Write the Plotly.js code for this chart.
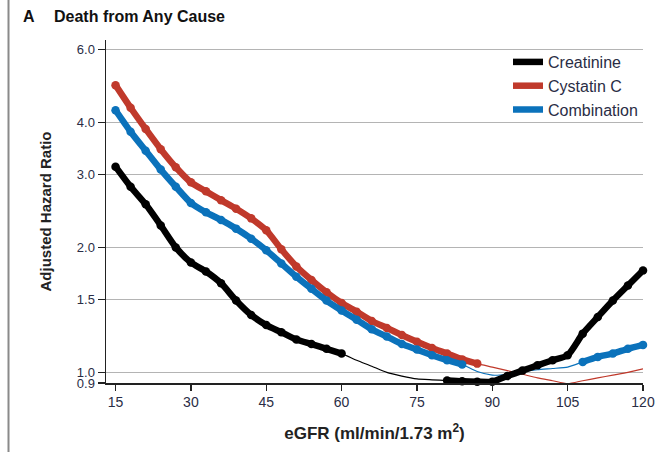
<!DOCTYPE html>
<html>
<head>
<meta charset="utf-8">
<script src="https://cdn.plot.ly/plotly-3.0.1.min.js"></script>
<style>html,body{margin:0;padding:0;background:#fff;}#chart{width:668px;height:452px;}</style>
</head>
<body>
<div id="chart"></div>
<script>
// eGFR grid (ml/min/1.73 m2)
const egfr = [15,18,21,24,27,30,33,36,39,42,45,48,51,54,57,60,63,66,69,72,75,78,81,84,87,90,93,96,99,102,105,108,111,114,117,120];

// Adjusted hazard ratios
const creatinine = [3.13,2.80,2.54,2.26,2.00,1.84,1.75,1.64,1.49,1.375,1.30,1.25,1.20,1.17,1.14,1.11,1.07,1.035,1.00,0.98,0.965,0.96,0.956,0.952,0.95,0.95,0.98,1.01,1.04,1.07,1.10,1.24,1.36,1.49,1.62,1.76];
const cystatinC  = [4.92,4.34,3.86,3.45,3.12,2.87,2.73,2.60,2.48,2.35,2.20,1.98,1.80,1.67,1.56,1.47,1.40,1.33,1.28,1.23,1.185,1.145,1.11,1.075,1.05,1.03,1.01,0.99,0.97,0.955,0.94,0.955,0.97,0.985,1.00,1.02];
const combination = [4.28,3.80,3.42,3.08,2.80,2.56,2.43,2.33,2.22,2.10,1.97,1.83,1.70,1.59,1.49,1.41,1.34,1.27,1.22,1.17,1.135,1.10,1.07,1.045,1.005,0.985,0.99,1.005,1.015,1.022,1.03,1.06,1.09,1.11,1.14,1.165];

// eGFR ranges where the estimate is drawn as a dotted (significant) segment
const creatinineSig = [[15,60],[81,120]];
const cystatinCSig = [[15,87]];
const combinationSig = [[15,84],[108,120]];

const seriesNames = ['Creatinine','Cystatin C','Combination'];
const xTicks = [15,30,45,60,75,90,105,120];
const yTickVals = [0.943,1.0,1.5,2.0,3.0,4.0,6.0];
const yTickText = ['0.9','1.0','1.5','2.0','3.0','4.0','6.0'];

const colors = {Creatinine:'#000000','Cystatin C':'#c0392b',Combination:'#0b72bb'};
const FONT = 'Liberation Sans, Arial, sans-serif';

function sigY(vals, ranges){
  return egfr.map((x,i)=> ranges.some(r=>x>=r[0]&&x<=r[1]) ? vals[i] : null);
}

const order = [
  {name:'Cystatin C', vals:cystatinC, sig:cystatinCSig, rank:2},
  {name:'Combination', vals:combination, sig:combinationSig, rank:3},
  {name:'Creatinine', vals:creatinine, sig:creatinineSig, rank:1}
];

const traces = [];
order.forEach(s=>{
  traces.push({x:egfr, y:s.vals, mode:'lines', type:'scatter',
    line:{color:colors[s.name], width:1.2, shape:'spline', smoothing:0.6},
    showlegend:false, hoverinfo:'skip'});
});
order.forEach(s=>{
  const ys = sigY(s.vals, s.sig);
  traces.push({x:egfr, y:ys, mode:'lines', type:'scatter', name:s.name, legendrank:s.rank,
    connectgaps:false, line:{color:colors[s.name], width:6.5, shape:'spline', smoothing:0.6},
    cliponaxis:false, hoverinfo:'skip'});
  traces.push({x:egfr, y:ys, mode:'markers', type:'scatter', showlegend:false,
    marker:{color:colors[s.name], size:8.5}, cliponaxis:false, hoverinfo:'skip'});
});

const L=106, R=643, T=40, B=383;
const W=668, H=452;
const px2paperX = p => (p-L)/(R-L);
const px2paperY = p => (B-p)/(B-T);

const layout = {
  width:W, height:H,
  margin:{l:L, r:W-R, t:T, b:H-B, pad:0},
  paper_bgcolor:'#fff', plot_bgcolor:'#fff',
  font:{family:FONT, size:13, color:'#222'},
  showlegend:true,
  legend:{x:px2paperX(508), y:px2paperY(45), xanchor:'left', yanchor:'top',
    font:{family:FONT, size:16, color:'#2a2d45'}, bgcolor:'rgba(0,0,0,0)', borderwidth:0},
  xaxis:{range:[13.1,120], tickvals:xTicks, ticks:'outside', ticklen:6, tickwidth:1.2, tickcolor:'#222',
    showline:true, linecolor:'#222', linewidth:1.5, showgrid:false, zeroline:false,
    tickfont:{family:FONT, size:14, color:'#2a2d45'},
    title:{text:'<b>eGFR (ml/min/1.73 m<sup>2</sup>)</b>', font:{family:FONT, size:17, color:'#222'}, standoff:18}},
  yaxis:{type:'log', range:[Math.log10(0.943), Math.log10(6.32)], tickvals:yTickVals, ticktext:yTickText,
    ticks:'outside', ticklen:7, tickwidth:1.2, tickcolor:'#222',
    showline:true, linecolor:'#222', linewidth:1.5, showgrid:true, gridcolor:'#b4b4b4', gridwidth:1.2, zeroline:false,
    tickfont:{family:FONT, size:13, color:'#2a2d45'},
    title:{text:'<b>Adjusted Hazard Ratio</b>', font:{family:FONT, size:15, color:'#222'}, standoff:21}},
  annotations:[
    {text:'<b>A</b>', xref:'paper', yref:'paper', x:px2paperX(21), y:px2paperY(17), xanchor:'left', yanchor:'middle', showarrow:false, font:{family:FONT, size:16, color:'#111'}},
    {text:'<b>Death from Any Cause</b>', xref:'paper', yref:'paper', x:px2paperX(52), y:px2paperY(17), xanchor:'left', yanchor:'middle', showarrow:false, font:{family:FONT, size:16, color:'#111'}}
  ],
  shapes:[
    {type:'line', xref:'paper', yref:'paper', x0:px2paperX(8.5), x1:px2paperX(8.5), y0:px2paperY(H+5), y1:px2paperY(-5), line:{color:'#8a8a8a', width:2}}
  ]
};

Plotly.newPlot('chart', traces, layout, {displayModeBar:false, staticPlot:true});
</script>
</body>
</html>
